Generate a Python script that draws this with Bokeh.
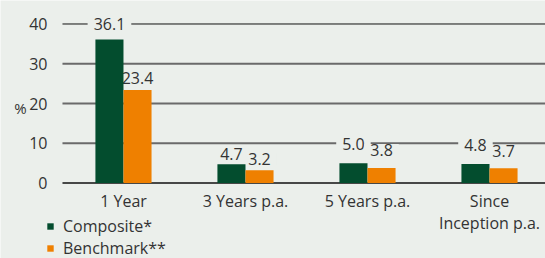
from bokeh.plotting import figure
from bokeh.models import (ColumnDataSource, FixedTicker, Label,
                          Legend, LegendItem, Range1d)
from bokeh.core.properties import value
from bokeh.transform import dodge
from bokeh.embed import file_html
from bokeh.resources import INLINE

# ---- data ----
categories = ["1 Year", "3 Years p.a.", "5 Years p.a.", "Since\nInception p.a."]
composite = [36.1, 4.7, 5.0, 4.8]
benchmark = [23.4, 3.2, 3.8, 3.7]
y_ticks = [0, 10, 20, 30, 40]
series_names = ["Composite*", "Benchmark**"]

# ---- styles / layout ----
comp_color = "#034d2e"
bench_color = "#ef8000"
bg = "#ebefeb"
text_color = "#333333"
font = "Open Sans"
fs = "16px"
comp_label_dy = [-15, -10, -19, -19]   # screen px, negative = up
bench_label_dy = [-12, -11, -18, -17]
X_START, X_END = -1.008, 3.459          # visible x range
GRID_START = -0.5                       # gridlines start here
Y_START, Y_END = -18.99, 45.91

xs = list(range(len(categories)))
source = ColumnDataSource(dict(
    x=xs,
    comp=composite,
    bench=benchmark,
    comp_txt=[f"{v:.1f}" for v in composite],
    bench_txt=[f"{v:.1f}" for v in benchmark],
    comp_dy=comp_label_dy,
    bench_dy=bench_label_dy,
))

p = figure(width=545, height=258, output_backend="svg", toolbar_location=None,
           x_range=Range1d(X_START, X_END), y_range=Range1d(Y_START, Y_END),
           min_border=0)
p.background_fill_color = bg
p.border_fill_color = bg
p.outline_line_color = None
p.xgrid.visible = False
p.ygrid.visible = False

grid_colors = ["#111111" if t in (y_ticks[0], y_ticks[-1]) else "#6a6a6a" for t in y_ticks]
grid_widths = [1.5 if t == y_ticks[0] else (1 if t == y_ticks[-1] else 2) for t in y_ticks]
p.segment(x0=GRID_START, x1=X_END, y0=y_ticks, y1=y_ticks,
          line_color=grid_colors, line_width=grid_widths, level="underlay")

# value labels (drawn before bars so their background never covers a bar)
lab_kw = dict(source=source, text_align="center", text_baseline="middle",
              text_font=value(font), text_font_size=value(fs),
              text_color=text_color, background_fill_color=bg,
              padding=dict(x=6, y=0))
p.text(x=dodge("x", -0.115), y="comp", text="comp_txt", y_offset="comp_dy", **lab_kw)
p.text(x=dodge("x", 0.115), y="bench", text="bench_txt", y_offset="bench_dy", **lab_kw)

r1 = p.vbar(x=dodge("x", -0.115), top="comp", width=0.23, source=source,
            fill_color=comp_color, line_color=None)
r2 = p.vbar(x=dodge("x", 0.115), top="bench", width=0.23, source=source,
            fill_color=bench_color, line_color=None)

p.yaxis.fixed_location = GRID_START
p.yaxis.ticker = FixedTicker(ticks=y_ticks)
p.yaxis.axis_line_color = None
p.yaxis.major_tick_line_color = None
p.yaxis.minor_tick_line_color = None
p.yaxis.major_label_standoff = 9
p.yaxis.major_label_text_font = font
p.yaxis.major_label_text_font_size = fs
p.yaxis.major_label_text_color = text_color

p.xaxis.fixed_location = 0
p.xaxis.ticker = FixedTicker(ticks=xs)
p.xaxis.major_label_overrides = {i: c for i, c in zip(xs, categories)}
p.xaxis.axis_line_color = None
p.xaxis.major_tick_line_color = None
p.xaxis.minor_tick_line_color = None
p.xaxis.major_label_standoff = 1
p.xaxis.major_label_text_font = font
p.xaxis.major_label_text_font_size = fs
p.xaxis.major_label_text_line_height = 1.0
p.xaxis.major_label_text_color = text_color

p.add_layout(Label(x=20, y=151, x_units="screen", y_units="screen", text="%",
                   text_align="center", text_baseline="middle",
                   text_font=font, text_font_size="15px", text_color=text_color))

legend = Legend(items=[LegendItem(label=series_names[0], renderers=[r1]),
                       LegendItem(label=series_names[1], renderers=[r2])],
                location=(46, -1), orientation="vertical",
                background_fill_alpha=0, border_line_color=None,
                glyph_width=8, glyph_height=8, label_standoff=9,
                label_text_font=font, label_text_font_size=fs,
                label_text_color=text_color, label_height=21,
                spacing=0, padding=0, margin=0)
p.add_layout(legend)

open("out.html", "w").write(file_html(p, INLINE))
